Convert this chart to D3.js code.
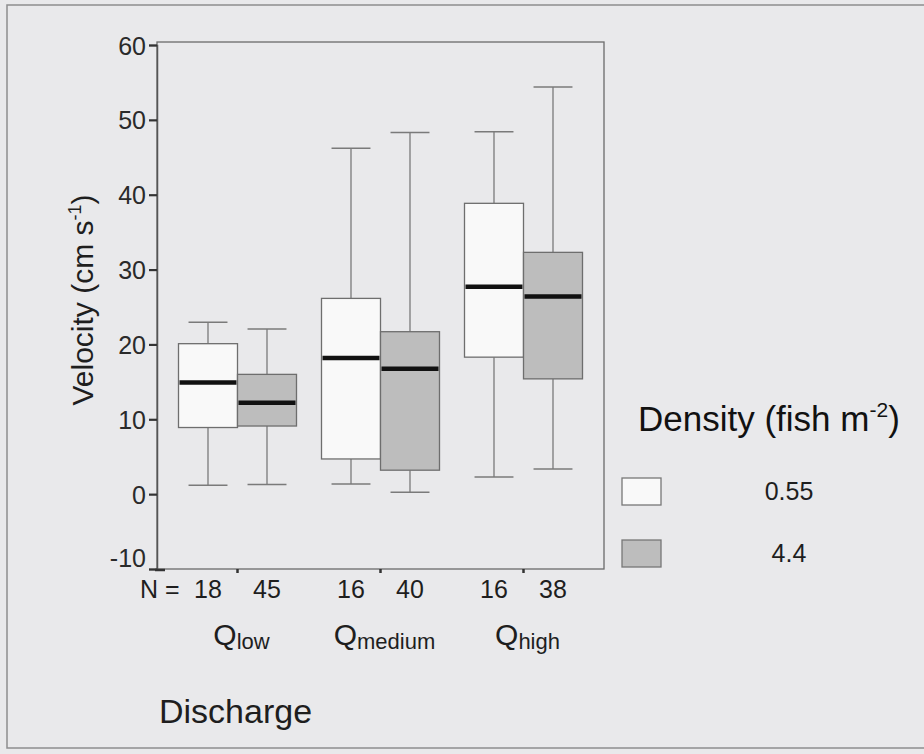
<!DOCTYPE html>
<html>
<head>
<meta charset="utf-8">
<script src="https://cdn.jsdelivr.net/npm/d3@7"></script>
<style>
  html, body { margin: 0; padding: 0; background: #e9e9eb; }
  svg { display: block; font-family: "Liberation Sans", Arial, sans-serif; }
</style>
</head>
<body>
<svg id="chart" width="924" height="754"></svg>
<script>
// ---- data ----
const groups = ["low", "medium", "high"];
const densities = ["0.55", "4.4"];
const nValues = [18, 45, 16, 40, 16, 38];
const whiskerLow = [1.2, 1.3, 1.35, 0.25, 2.3, 3.35];
const q1 = [8.9, 9.1, 4.7, 3.2, 18.3, 15.4];
const medians = [14.9, 12.2, 18.2, 16.75, 27.7, 26.4];
const q3 = [20.1, 16.0, 26.15, 21.7, 38.85, 32.3];
const whiskerHigh = [22.95, 22.05, 46.2, 48.3, 48.4, 54.4];
const yTicks = [-10, 0, 10, 20, 30, 40, 50, 60];
const fills = ["#f9f9f9", "#bdbdbd"];

const rows = [];
groups.forEach((g, gi) => densities.forEach((d, di) => {
  const i = gi * 2 + di;
  rows.push({ group: g, density: d, di, n: nValues[i], lo: whiskerLow[i], q1: q1[i], med: medians[i], q3: q3[i], hi: whiskerHigh[i] });
}));

const svg = d3.select("#chart");
const frame = { left: 157, right: 604, top: 42, bottom: 569 };

// outer page frame
svg.append("rect").attr("x", 7).attr("y", 5).attr("width", 940).attr("height", 743)
  .attr("fill", "none").attr("stroke", "#8d8d8f").attr("stroke-width", 1.5);

const y = d3.scaleLinear().domain([-10, 60]).range([569, 45]);
const x = d3.scaleBand().domain(groups).range([166, 595]);
const xi = d3.scaleBand().domain(densities).range([-59, 59]);
const cx = d => x(d.group) + x.bandwidth() / 2 + xi(d.density) + xi.bandwidth() / 2;

// plot frame
svg.append("rect").attr("x", frame.left).attr("y", frame.top)
  .attr("width", frame.right - frame.left).attr("height", frame.bottom - frame.top)
  .attr("fill", "none").attr("stroke", "#6b6b6b").attr("stroke-width", 1.3);

// y axis
const yAxis = svg.append("g").attr("transform", `translate(${frame.left},0)`)
  .call(d3.axisLeft(y).tickValues(yTicks).tickSize(8).tickPadding(3).tickFormat(d => String(d)));
yAxis.select(".domain").attr("stroke", "#555").attr("stroke-width", 1.5);
yAxis.selectAll(".tick line").attr("stroke", "#333").attr("stroke-width", 2.2);
yAxis.selectAll(".tick text").attr("font-size", 25).attr("fill", "#2a2a2a")
  .attr("font-family", "Liberation Sans, Arial, sans-serif")
  .attr("dy", d => d === -10 ? "-0.12em" : "0.36em");

// bottom ticks at group centers
svg.append("g").selectAll("line").data(groups).join("line")
  .attr("x1", g => x(g) + x.bandwidth() / 2).attr("x2", g => x(g) + x.bandwidth() / 2)
  .attr("y1", frame.bottom).attr("y2", frame.bottom + 4)
  .attr("stroke", "#333").attr("stroke-width", 2.5);
svg.append("line").attr("x1", frame.left - 2).attr("x2", frame.left + 8)
  .attr("y1", frame.bottom + 1).attr("y2", frame.bottom + 1).attr("stroke", "#333").attr("stroke-width", 2.5);

// boxes
const bw = xi.bandwidth();
const capW = bw * 0.66;
const boxes = svg.append("g").selectAll("g").data(rows).join("g");
boxes.append("line").attr("x1", cx).attr("x2", cx).attr("y1", d => y(d.hi)).attr("y2", d => y(d.q3))
  .attr("stroke", "#7a7a7a").attr("stroke-width", 1.3);
boxes.append("line").attr("x1", cx).attr("x2", cx).attr("y1", d => y(d.q1)).attr("y2", d => y(d.lo))
  .attr("stroke", "#7a7a7a").attr("stroke-width", 1.3);
boxes.append("line").attr("x1", d => cx(d) - capW / 2).attr("x2", d => cx(d) + capW / 2)
  .attr("y1", d => y(d.hi)).attr("y2", d => y(d.hi)).attr("stroke", "#7a7a7a").attr("stroke-width", 1.5);
boxes.append("line").attr("x1", d => cx(d) - capW / 2).attr("x2", d => cx(d) + capW / 2)
  .attr("y1", d => y(d.lo)).attr("y2", d => y(d.lo)).attr("stroke", "#7a7a7a").attr("stroke-width", 1.5);
boxes.append("rect").attr("x", d => cx(d) - bw / 2).attr("width", bw)
  .attr("y", d => y(d.q3)).attr("height", d => y(d.q1) - y(d.q3))
  .attr("fill", d => fills[d.di]).attr("stroke", "#6e6e6e").attr("stroke-width", 1.3);
boxes.append("line").attr("x1", d => cx(d) - bw / 2 + 1).attr("x2", d => cx(d) + bw / 2 - 1)
  .attr("y1", d => y(d.med)).attr("y2", d => y(d.med)).attr("stroke", "#111").attr("stroke-width", 4.5);

// N labels
svg.append("text").attr("x", 140).attr("y", 598).attr("font-size", 25).attr("fill", "#1e1e1e").text("N =");
svg.append("g").selectAll("text").data(rows).join("text")
  .attr("x", cx).attr("y", 598).attr("text-anchor", "middle").attr("font-size", 25).attr("fill", "#1e1e1e")
  .text(d => d.n);

// group labels with subscripts
const gl = svg.append("g").selectAll("text").data(groups).join("text")
  .attr("x", g => x(g) + x.bandwidth() / 2 + 4).attr("y", 645).attr("text-anchor", "middle")
  .attr("font-size", 30).attr("fill", "#1e1e1e");
gl.append("tspan").text("Q");
gl.append("tspan").attr("font-size", 22).attr("dy", 4).text(g => g);

// axis titles
svg.append("text").attr("x", 159).attr("y", 723).attr("font-size", 34).attr("fill", "#1e1e1e").text("Discharge");
const yt = svg.append("text").attr("transform", "translate(93,300) rotate(-90)").attr("text-anchor", "middle")
  .attr("font-size", 30).attr("fill", "#1e1e1e");
yt.append("tspan").text("Velocity (cm s");
yt.append("tspan").attr("font-size", 18).attr("dy", -12).text("-1");
yt.append("tspan").attr("dy", 12).text(")");

// legend
const lt = svg.append("text").attr("x", 638).attr("y", 431).attr("font-size", 35).attr("fill", "#111");
lt.append("tspan").text("Density (fish m");
lt.append("tspan").attr("font-size", 21).attr("dy", -14).text("-2");
lt.append("tspan").attr("dy", 14).text(")");
const leg = svg.append("g").selectAll("g").data(densities).join("g")
  .attr("transform", (d, i) => `translate(622,${478 + i * 62})`);
leg.append("rect").attr("width", 39).attr("height", 27).attr("fill", (d, i) => fills[i])
  .attr("stroke", "#777").attr("stroke-width", 1.3);
leg.append("text").attr("x", 167).attr("y", 22).attr("text-anchor", "middle")
  .attr("font-size", 25).attr("fill", "#1e1e1e").text(d => d);
</script>
</body>
</html>
